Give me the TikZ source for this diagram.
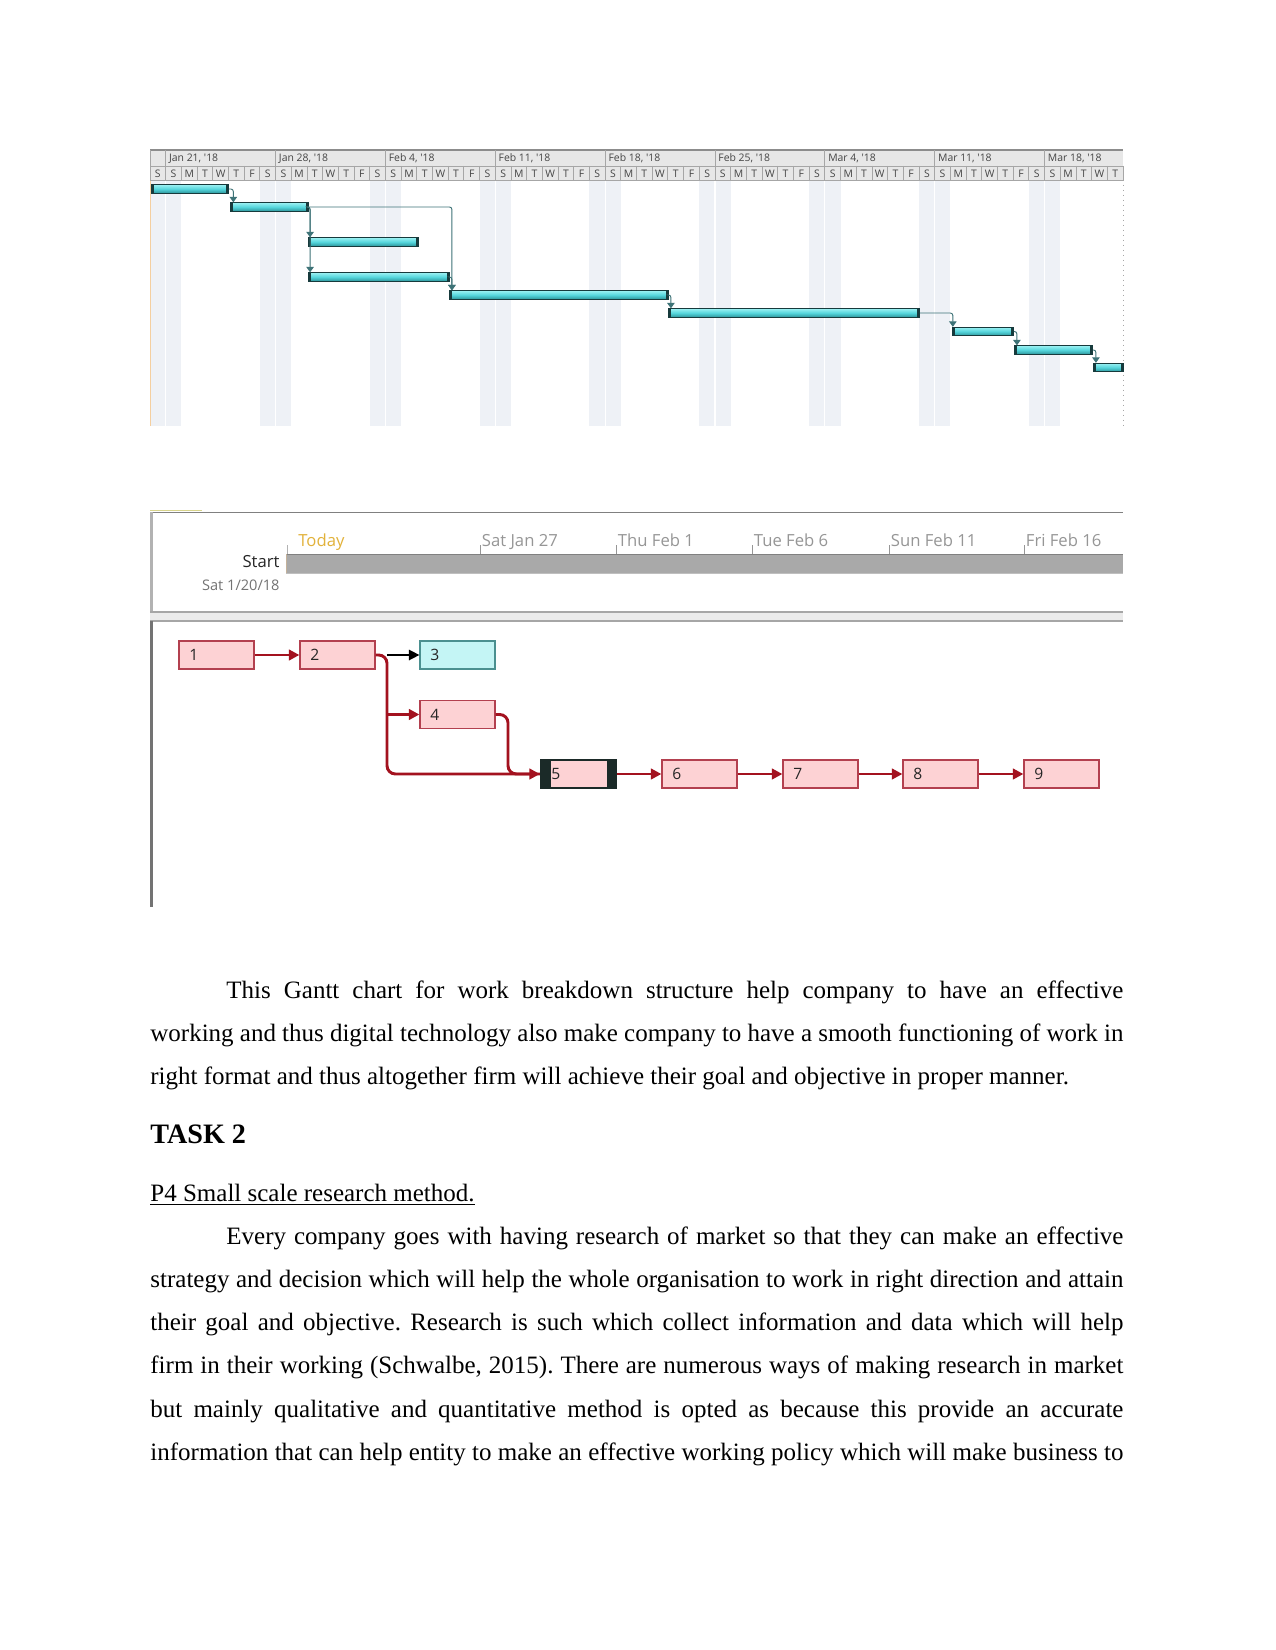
\documentclass[tikz,border=0pt]{standalone}
\usepackage{fontspec}
\setmainfont{Liberation Serif}
\newfontfamily\uifont{Open Sans}
\usepackage{tikz}
\usetikzlibrary{arrows.meta, calc, positioning}
\frenchspacing

\definecolor{hdrfill}{HTML}{E7E7E7}
\definecolor{hdrline}{HTML}{A6A6A6}
\definecolor{hdrtext}{HTML}{454545}
\definecolor{wkend}{HTML}{EEF1F6}
\definecolor{bartop}{HTML}{9AF1F3}
\definecolor{barmid}{HTML}{55D5DB}
\definecolor{barbot}{HTML}{2C949A}
\definecolor{barend}{HTML}{173A3C}
\definecolor{barlink}{HTML}{3E7377}
\definecolor{todayorange}{HTML}{F4CFA0}
\definecolor{todaygold}{HTML}{E2B23A}
\definecolor{tlbar}{HTML}{A9A9A9}
\definecolor{tltext}{HTML}{969696}
\definecolor{boxpink}{HTML}{FDD2D4}
\definecolor{boxred}{HTML}{B3404F}
\definecolor{boxcyan}{HTML}{C4F5F5}
\definecolor{boxteal}{HTML}{4B9090}
\definecolor{critdark}{HTML}{1B2A28}
\definecolor{linkred}{HTML}{A3121F}

\def\daywd{15.694}

\begin{document}
\begin{tikzpicture}[x=0.48pt, y=-0.48pt,
    hdr/.style={font=\uifont\fontsize{5}{6}\selectfont, text=hdrtext, inner sep=0pt},
    hdrrule/.style={draw=hdrline, line width=0.4pt},
    gbar/.style={rectangle, inner sep=0pt, minimum height=4.1pt, draw=barend, line width=0.4pt,
      top color=bartop, bottom color=barbot, middle color=barmid,
      path picture={
        \fill[barend] (path picture bounding box.north west) rectangle ([xshift=1.3pt]path picture bounding box.south west);
        \fill[barend] (path picture bounding box.north east) rectangle ([xshift=-1.3pt]path picture bounding box.south east);}},
    glink/.style={draw=barlink, line width=0.45pt, rounded corners=1.2pt, -{Triangle[length=2.6pt, width=3.6pt]}},
    tl/.style={font=\uifont\fontsize{8}{9}\selectfont, inner sep=0pt, anchor=base west},
    tbox/.style={rectangle, draw=boxred, fill=boxpink, line width=0.6pt, minimum height=13.4pt,
      text width=26pt, inner xsep=5pt, inner ysep=0pt, align=left,
      font=\uifont\fontsize{7.5}{9}\selectfont, text=black!85},
    tcrit/.style={tbox, draw=critdark, line width=1.1pt,
      path picture={
        \fill[critdark] (path picture bounding box.north west) rectangle ([xshift=4.8pt]path picture bounding box.south west);
        \fill[critdark] (path picture bounding box.north east) rectangle ([xshift=-4.4pt]path picture bounding box.south east);}},
    rlink/.style={draw=linkred, line width=1.4pt, -{Triangle[length=5pt, width=5pt]}},
    rline/.style={draw=linkred, line width=1.4pt},
    para/.style={inner sep=0pt, anchor=base west, font=\fontsize{12}{14}\selectfont}]

  \useasboundingbox (0,0) rectangle (1275,1650);
  \fill[white] (0,0) rectangle (1275,1650);

  % Gantt chart: weekend bands
  \foreach \k in {0,...,8}{
    \fill[wkend] ({150+7*\k*\daywd},180) rectangle ({150+(7*\k+2)*\daywd},426);
    \draw[white, line width=0.5pt] ({150+(7*\k+1)*\daywd},180) -- ({150+(7*\k+1)*\daywd},426);
  }
  \draw[todayorange, line width=0.6pt] (150.6,180) -- (150.6,426);
  \draw[black!35, dotted, line width=0.4pt] (1123,180) -- (1123,426);

  % Gantt chart: header
  \fill[hdrfill] (150,150) rectangle (1123,180);
  \draw[draw=black!45, line width=0.6pt] (150,150) -- (1123,150);
  \draw[hdrrule] (150,166) -- (1123,166);
  \draw[hdrrule] (150,180) -- (1123,180);
  \draw[hdrrule] (150,150) -- (150,180);
  \foreach \w [count=\k from 0] in {Jan 21,Jan 28,Feb 4,Feb 11,Feb 18,Feb 25,Mar 4,Mar 11,Mar 18}{
    \draw[hdrrule] ({150+(1+7*\k)*\daywd},150) -- ({150+(1+7*\k)*\daywd},166);
    \node[hdr, anchor=west] (wk\k) at ({153+(1+7*\k)*\daywd},158.5) {\w, '18};
  }
  \foreach \w in {0,...,8}{
    \foreach \d [count=\j from 0] in {S,S,M,T,W,T,F}{
      \pgfmathtruncatemacro\dn{7*\w+\j}
      \ifnum\dn<62
        \node[hdr] (d\dn) at ({150+(\dn+0.5)*\daywd},173.5) {\d};
        \draw[hdrrule] ({150+(\dn+1)*\daywd},166) -- ({150+(\dn+1)*\daywd},180);
      \fi
    }
  }

  % Gantt chart: task bars
  \foreach \i/\a/\b/\y in {1/151/228/189, 2/230/308/207, 3/308/418/242, 4/308/449/277,
      5/449/668/295, 6/668/919/313, 7/952/1013/331.5, 8/1014/1092/350, 9/1093/1123/367.5}
    \node[gbar, anchor=west, minimum width={(\b-\a)*0.48pt}] (g\i) at (\a,\y) {};

  % Gantt chart: links
  \draw[glink] (g1.east) -| ([xshift=1.6pt]g2.north west);
  \draw[glink] (g2.east) -| ([xshift=1pt]g3.north west);
  \draw[glink] (g2.east) -| ([xshift=1pt]g4.north west);
  \draw[glink] (g2.east) -| ([xshift=1.4pt]g5.north west);
  \draw[glink] (g4.east) -| ([xshift=1.4pt]g5.north west);
  \draw[glink] (g5.east) -| ([xshift=1.4pt]g6.north west);
  \draw[glink] (g6.east) -| ([xshift=0.4pt]g7.north west);
  \draw[glink] (g7.east) -| ([xshift=1.4pt]g8.north west);
  \draw[glink] (g8.east) -| ([xshift=1.4pt]g9.north west);

  % Timeline
  \draw[black!50, line width=0.8pt] (150,512.5) -- (1123,512.5);
  \draw[olive!35, line width=0.8pt] (150,510.5) -- (202,510.5);
  \draw[black!30, line width=1.2pt] (151.5,512) -- (151.5,612);
  \fill[tlbar] (286,554) rectangle (1123,573);
  \draw[black!50, line width=0.6pt] (286,554.5) -- (1123,554.5);
  \draw[black!25, line width=0.4pt] (286,573) -- (1123,573);
  \draw[todayorange!70!black!70, line width=0.6pt] (286.5,554) -- (286.5,573);
  \draw[black!30, line width=0.4pt] (287,545) -- (287,554);
  \node[tl, text=todaygold] (today) at (298,546) {Today};
  \node[tl, anchor=base east, text=black!85] (start) at (280,567.5) {Start};
  \node[tl, anchor=base east, text=black!55, font=\uifont\fontsize{7}{8}\selectfont] (sdate) at (280,590) {Sat 1/20/18};
  \foreach \x/\t [count=\k] in {480/Sat Jan 27, 616/Thu Feb 1, 752/Tue Feb 6, 889/Sun Feb 11, 1024/Fri Feb 16}{
    \draw[tltext, line width=0.4pt] (\x,545) -- (\x,554);
    \node[tl, text=tltext] (tk\k) at ({\x+1.5},546) {\t};
  }
  \fill[black!8] (150,612) rectangle (1123,621);
  \draw[black!35, line width=0.5pt] (150,612) -- (1123,612);
  \draw[black!35, line width=0.5pt] (150,621) -- (1123,621);

  % Network diagram
  \draw[black!55, line width=1.4pt] (151.5,621) -- (151.5,907);
  \node[tbox] (t1) at (216.5,655) {1};
  \node[tbox] (t2) at (337.5,655) {2};
  \node[tbox, fill=boxcyan, draw=boxteal] (t3) at (457.5,655) {3};
  \node[tbox] (t4) at (457.5,714.5) {4};
  \node[tcrit] (t5) at (578.5,774) {5};
  \node[tbox] (t6) at (699.5,774) {6};
  \node[tbox] (t7) at (820.5,774) {7};
  \node[tbox] (t8) at (940.5,774) {8};
  \node[tbox] (t9) at (1061.5,774) {9};

  \coordinate (br) at (387,655);
  \coordinate (mg) at (508,774);
  \draw[rlink] (t1) -- (t2);
  \draw[draw=black, line width=0.7pt, -{Triangle[length=5pt, width=5pt]}] (br) -- (t3);
  \draw[rlink, rounded corners=4pt] (t2.east) -- (br) |- (t5.west);
  \draw[rlink] (br |- t4.west) -- (t4);
  \draw[rline, rounded corners=4pt] (t4.east) -| (mg) -- (t5.west);
  \draw[rlink] (t5) -- (t6);
  \draw[rlink] (t6) -- (t7);
  \draw[rlink] (t7) -- (t8);
  \draw[rlink] (t8) -- (t9);

  % Text
  \node[para] (p1a) at (226,998) {\makebox[430.56pt][s]{This Gantt chart for work breakdown structure help company to have an effective}};
  \node[para] (p1b) at (150,1041) {\makebox[467.04pt][s]{working and thus digital technology also make company to have a smooth functioning of work in}};
  \node[para] (p1c) at (150,1084) {right format and thus altogether firm will achieve their goal and objective in proper manner.};
  \node[para, font=\fontsize{13.5}{16}\selectfont\bfseries] (task) at (150,1143) {TASK 2};
  \node[para] (sub) at (150,1201) {\underline{P4 Small scale research method.}};
  \node[para] (p2a) at (226,1244) {\makebox[430.56pt][s]{Every company goes with having research of market so that they can make an effective}};
  \node[para] (p2b) at (150,1287) {\makebox[467.04pt][s]{strategy and decision which will help the whole organisation to work in right direction and attain}};
  \node[para] (p2c) at (150,1330) {\makebox[467.04pt][s]{their goal and objective. Research is such which collect information and data which will help}};
  \node[para] (p2d) at (150,1373) {\makebox[467.04pt][s]{firm in their working (Schwalbe, 2015). There are numerous ways of making research in market}};
  \node[para] (p2e) at (150,1417) {\makebox[467.04pt][s]{but mainly qualitative and quantitative method is opted as because this provide an accurate}};
  \node[para] (p2f) at (150,1460) {\makebox[467.04pt][s]{information that can help entity to make an effective working policy which will make business to}};
\end{tikzpicture}
\end{document}
